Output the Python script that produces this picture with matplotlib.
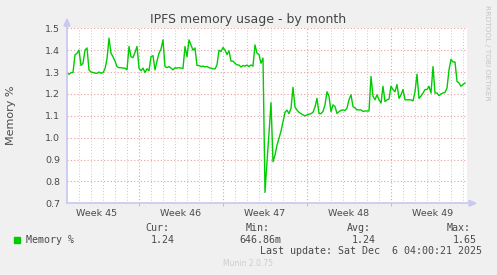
import numpy as np
import matplotlib
matplotlib.use("Agg")
import matplotlib.pyplot as plt
from matplotlib.lines import Line2D
from matplotlib.patches import Polygon, Rectangle

# memory % samples, one every 4 hours over the month
memory_pct = [
    1.295, 1.29, 1.297, 1.298, 1.379, 1.386, 1.40, 1.33, 1.34, 1.40,
    1.41, 1.31, 1.30, 1.298, 1.295, 1.294, 1.30, 1.295, 1.297, 1.315,
    1.36, 1.455, 1.386, 1.37, 1.35, 1.325, 1.32, 1.32, 1.318, 1.318,
    1.31, 1.417, 1.37, 1.366, 1.39, 1.417, 1.318, 1.306, 1.318, 1.298,
    1.315, 1.306, 1.37, 1.375, 1.31, 1.35, 1.386, 1.405, 1.447, 1.325,
    1.32, 1.325,
    1.318, 1.31, 1.32, 1.318, 1.32, 1.318, 1.317, 1.417, 1.37, 1.447,
    1.424, 1.40, 1.41, 1.33, 1.33, 1.325, 1.327, 1.324, 1.325, 1.32,
    1.318, 1.315, 1.314, 1.333, 1.40, 1.394, 1.412, 1.40, 1.38, 1.397,
    1.35, 1.35, 1.34, 1.333, 1.332, 1.323, 1.33, 1.327, 1.332, 1.325,
    1.332, 1.327, 1.424, 1.386, 1.38, 1.34, 1.364,
    0.75, 0.89, 1.02, 1.16, 0.89, 0.92, 0.966, 0.997, 1.03, 1.073,
    1.116, 1.126, 1.11, 1.134, 1.23, 1.14, 1.126, 1.116, 1.11, 1.104,
    1.10, 1.104, 1.107, 1.11, 1.116, 1.14, 1.18, 1.11, 1.11, 1.12,
    1.15, 1.21, 1.19,
    1.119, 1.15, 1.142, 1.111, 1.119, 1.125, 1.127, 1.124, 1.135, 1.173,
    1.196, 1.142, 1.136, 1.127, 1.127, 1.127, 1.12, 1.122, 1.122, 1.122,
    1.28, 1.19, 1.173, 1.196, 1.173, 1.158, 1.235, 1.165, 1.173, 1.176,
    1.235, 1.22, 1.21, 1.243, 1.18, 1.196, 1.22, 1.173, 1.173, 1.173,
    1.173, 1.168, 1.21, 1.29, 1.18, 1.19, 1.204, 1.22, 1.22, 1.235,
    1.204, 1.325, 1.204, 1.204, 1.192, 1.2, 1.204, 1.207, 1.227, 1.31,
    1.358, 1.346, 1.346, 1.258, 1.25, 1.235, 1.243, 1.25,
]
step_hours = 4
week_names = ["Week 45", "Week 46", "Week 47", "Week 48", "Week 49"]
week_starts = [6, 13, 20, 27]          # days from left edge
span_days = 400 / 12
y_ticks = [0.7, 0.8, 0.9, 1.0, 1.1, 1.2, 1.3, 1.4, 1.5]

legend_heads = ["Cur:", "Min:", "Avg:", "Max:"]
legend_vals = ["1.24", "646.86m", "1.24", "1.65"]

W, H = 497, 275
BG = "#f0f0f0"
GREEN = "#00cc00"
TXT = "#4a4a4a"


def fx(x):
    return x / W


def fy(y):
    return 1 - y / H


days = np.arange(len(memory_pct)) * step_hours / 24.0

fig = plt.figure(figsize=(W / 100, H / 100), dpi=100, facecolor=BG)
ax = fig.add_axes([fx(67), fy(203.3), 400 / W, 175 / H])
ax.set_facecolor("white")

# grid: gray day lines, red week lines and value lines
for d in range(0, 34):
    if d in week_starts:
        continue
    ax.axvline(d, color="#c8c8c8", lw=0.7, ls=(0, (1, 2)), zorder=1)
for d in week_starts:
    ax.axvline(d, color="#e6a0a0", lw=0.8, ls=(0, (1, 2)), zorder=1)
for v in y_ticks[1:]:
    ax.axhline(v, color="#e6a0a0", lw=0.8, ls=(0, (1, 2)), zorder=1)

ax.plot(days, memory_pct, color=GREEN, lw=1.0, zorder=3)

ax.set_xlim(0, span_days)
ax.set_ylim(0.7, 1.5)
ax.set_yticks(y_ticks)
ax.set_yticklabels([f"{v:.1f}" for v in y_ticks])
ax.set_xticks([w - 3.5 for w in week_starts] + [week_starts[-1] + 3.5])
ax.set_xticklabels(week_names)
ax.set_xticks(week_starts, minor=True)
ax.tick_params(axis="both", which="major", length=0, labelsize=6.8, labelcolor=TXT)
ax.tick_params(axis="y", pad=5)
ax.tick_params(axis="x", pad=4)
ax.tick_params(axis="x", which="minor", length=2.5, color="#e6a0a0", direction="out")
for s in ax.spines.values():
    s.set_visible(False)

# axis lines with arrows
axc = "#c8c8f0"
fig.add_artist(Line2D([fx(67), fx(67)], [fy(203.3), fy(22)], color=axc, lw=1.2))
fig.add_artist(Line2D([fx(67), fx(472)], [fy(203.3), fy(203.3)], color=axc, lw=1.2))
fig.add_artist(Polygon([[fx(64), fy(26)], [fx(70), fy(26)], [fx(67), fy(19)]],
                       closed=True, color=axc, transform=fig.transFigure))
fig.add_artist(Polygon([[fx(469), fy(200.3)], [fx(469), fy(206.3)], [fx(476), fy(203.3)]],
                       closed=True, color=axc, transform=fig.transFigure))

fig.text(fx(248), fy(19), "IPFS memory usage - by month", ha="center", va="center",
         fontsize=9, color="#444444")
fig.text(fx(11), fy(115), "Memory %", rotation=90, ha="center", va="center",
         fontsize=8, color=TXT)
fig.text(fx(487.5), fy(5), "RRDTOOL / TOBI OETIKER", rotation=270, ha="center", va="top",
         fontsize=5.4, color="#c4c4c4")

# legend block
mono = dict(family="DejaVu Sans Mono", fontsize=7.2, color=TXT, va="center")
fig.add_artist(Rectangle((fx(14), fy(242.5)), 6 / W, 6 / H, color=GREEN,
                         transform=fig.transFigure))
fig.text(fx(26), fy(240), "Memory %", ha="left", **mono)
head_x = [145, 245.7, 346.7, 447]
val_right = [175, 281.7, 376, 476.7]
for hx, h in zip(head_x, legend_heads):
    fig.text(fx(hx), fy(228), h, ha="left", **mono)
for vx, v in zip(val_right, legend_vals):
    fig.text(fx(vx), fy(240), v, ha="right", **mono)
fig.text(fx(482.5), fy(251.5), "Last update: Sat Dec  6 04:00:21 2025", ha="right", **mono)
fig.text(fx(248), fy(264), "Munin 2.0.75", ha="center", va="center",
         fontsize=5.5, color="#cccccc")

fig.savefig("out.png", dpi=100, facecolor=BG)
